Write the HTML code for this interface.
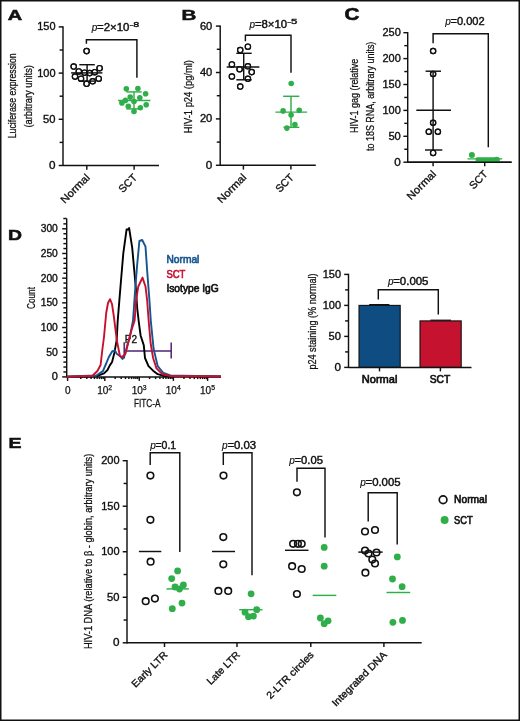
<!DOCTYPE html><html><head><meta charset="utf-8"><style>html,body{margin:0;padding:0;background:#fff;width:520px;height:721px;overflow:hidden;position:relative}</style></head><body><svg width="520" height="721" viewBox="0 0 520 721" style="position:absolute;left:0;top:0;will-change:transform" font-family='"Liberation Sans", sans-serif'>
<rect x="0" y="0" width="520" height="721" fill="white"/>
<text x="7.70" y="19.50" font-size="14.6" text-anchor="start" fill="#111" font-weight="bold" stroke="#111" stroke-width="0.55" textLength="14.40" lengthAdjust="spacingAndGlyphs">A</text>
<line x1="63.00" y1="26.30" x2="63.00" y2="166.10" stroke="#111" stroke-width="1.45" stroke-linecap="butt"/>
<line x1="58.70" y1="165.50" x2="63.00" y2="165.50" stroke="#111" stroke-width="1.45" stroke-linecap="butt"/>
<line x1="58.70" y1="119.30" x2="63.00" y2="119.30" stroke="#111" stroke-width="1.45" stroke-linecap="butt"/>
<line x1="58.70" y1="73.10" x2="63.00" y2="73.10" stroke="#111" stroke-width="1.45" stroke-linecap="butt"/>
<line x1="58.70" y1="26.90" x2="63.00" y2="26.90" stroke="#111" stroke-width="1.45" stroke-linecap="butt"/>
<line x1="59.60" y1="142.40" x2="63.00" y2="142.40" stroke="#111" stroke-width="1.45" stroke-linecap="butt"/>
<line x1="59.60" y1="96.20" x2="63.00" y2="96.20" stroke="#111" stroke-width="1.45" stroke-linecap="butt"/>
<line x1="59.60" y1="50.00" x2="63.00" y2="50.00" stroke="#111" stroke-width="1.45" stroke-linecap="butt"/>
<text x="55.50" y="169.00" font-size="10" text-anchor="end" fill="#111" font-weight="normal" stroke="#111" stroke-width="0.35" textLength="6.50" lengthAdjust="spacingAndGlyphs">0</text>
<text x="55.50" y="122.80" font-size="10" text-anchor="end" fill="#111" font-weight="normal" stroke="#111" stroke-width="0.35" textLength="12.40" lengthAdjust="spacingAndGlyphs">50</text>
<text x="55.50" y="76.60" font-size="10" text-anchor="end" fill="#111" font-weight="normal" stroke="#111" stroke-width="0.35" textLength="18.30" lengthAdjust="spacingAndGlyphs">100</text>
<text x="55.50" y="30.40" font-size="10" text-anchor="end" fill="#111" font-weight="normal" stroke="#111" stroke-width="0.35" textLength="18.30" lengthAdjust="spacingAndGlyphs">150</text>
<line x1="63.00" y1="165.50" x2="159.00" y2="165.50" stroke="#111" stroke-width="1.45" stroke-linecap="butt"/>
<line x1="86.80" y1="165.50" x2="86.80" y2="169.80" stroke="#111" stroke-width="1.45" stroke-linecap="butt"/>
<line x1="134.10" y1="165.50" x2="134.10" y2="169.80" stroke="#111" stroke-width="1.45" stroke-linecap="butt"/>
<text x="90.40" y="178.30" font-size="10.5" text-anchor="end" fill="#111" font-weight="normal" stroke="#111" stroke-width="0.35" textLength="36.18" lengthAdjust="spacingAndGlyphs" transform="rotate(-45 90.40 178.30)">Normal</text>
<text x="137.70" y="178.30" font-size="10.5" text-anchor="end" fill="#111" font-weight="normal" stroke="#111" stroke-width="0.35" textLength="21.00" lengthAdjust="spacingAndGlyphs" transform="rotate(-45 137.70 178.30)">SCT</text>
<text x="15.90" y="95.80" font-size="11.6" text-anchor="middle" fill="#111" font-weight="normal" stroke="#111" stroke-width="0.28" textLength="85.00" lengthAdjust="spacingAndGlyphs" transform="rotate(-90 15.90 95.80)">Luciferase expression</text>
<text x="32.30" y="96.30" font-size="11.6" text-anchor="middle" fill="#111" font-weight="normal" stroke="#111" stroke-width="0.28" textLength="62.50" lengthAdjust="spacingAndGlyphs" transform="rotate(-90 32.30 96.30)">(arbitrary units)</text>
<path d="M86.4 43.7 V39.8 H136.9 V77.8" stroke="#111" stroke-width="1.45" fill="none" stroke-linejoin="miter"/>
<text x="91.70" y="31.40" font-size="10" text-anchor="start" fill="#111" font-weight="normal" stroke="#111" stroke-width="0.15" font-style="italic">p</text>
<text x="97.00" y="31.40" font-size="10" text-anchor="start" fill="#111" font-weight="normal" stroke="#111" stroke-width="0.4" textLength="32.40" lengthAdjust="spacingAndGlyphs">=2×10</text>
<text x="129.60" y="27.10" font-size="6.8" text-anchor="start" fill="#111" font-weight="normal" stroke="#111" stroke-width="0.3" textLength="9.60" lengthAdjust="spacingAndGlyphs">-8</text>
<circle cx="86.60" cy="51.10" r="2.7" stroke="#111" stroke-width="1.15" fill="white"/>
<circle cx="73.70" cy="66.50" r="2.7" stroke="#111" stroke-width="1.15" fill="white"/>
<circle cx="99.60" cy="68.20" r="2.7" stroke="#111" stroke-width="1.15" fill="white"/>
<circle cx="78.80" cy="71.40" r="2.7" stroke="#111" stroke-width="1.15" fill="white"/>
<circle cx="84.50" cy="72.70" r="2.7" stroke="#111" stroke-width="1.15" fill="white"/>
<circle cx="89.70" cy="73.10" r="2.7" stroke="#111" stroke-width="1.15" fill="white"/>
<circle cx="94.80" cy="72.20" r="2.7" stroke="#111" stroke-width="1.15" fill="white"/>
<circle cx="75.00" cy="76.60" r="2.7" stroke="#111" stroke-width="1.15" fill="white"/>
<circle cx="81.00" cy="78.70" r="2.7" stroke="#111" stroke-width="1.15" fill="white"/>
<circle cx="86.60" cy="83.80" r="2.7" stroke="#111" stroke-width="1.15" fill="white"/>
<circle cx="92.70" cy="81.30" r="2.7" stroke="#111" stroke-width="1.15" fill="white"/>
<circle cx="98.70" cy="78.70" r="2.7" stroke="#111" stroke-width="1.15" fill="white"/>
<line x1="71.10" y1="72.90" x2="102.40" y2="72.90" stroke="#111" stroke-width="1.45" stroke-linecap="butt"/>
<line x1="79.30" y1="64.70" x2="94.80" y2="64.70" stroke="#111" stroke-width="1.45" stroke-linecap="butt"/>
<line x1="87.10" y1="64.70" x2="87.10" y2="81.10" stroke="#111" stroke-width="1.45" stroke-linecap="butt"/>
<line x1="79.30" y1="81.10" x2="94.80" y2="81.10" stroke="#111" stroke-width="1.45" stroke-linecap="butt"/>
<circle cx="86.6" cy="51.1" r="2.7" stroke="#111" stroke-width="1.15" fill="none"/>
<circle cx="73.7" cy="66.5" r="2.7" stroke="#111" stroke-width="1.15" fill="none"/>
<circle cx="99.6" cy="68.2" r="2.7" stroke="#111" stroke-width="1.15" fill="none"/>
<circle cx="78.8" cy="71.4" r="2.7" stroke="#111" stroke-width="1.15" fill="none"/>
<circle cx="84.5" cy="72.7" r="2.7" stroke="#111" stroke-width="1.15" fill="none"/>
<circle cx="89.7" cy="73.1" r="2.7" stroke="#111" stroke-width="1.15" fill="none"/>
<circle cx="94.8" cy="72.2" r="2.7" stroke="#111" stroke-width="1.15" fill="none"/>
<circle cx="75" cy="76.6" r="2.7" stroke="#111" stroke-width="1.15" fill="none"/>
<circle cx="81" cy="78.7" r="2.7" stroke="#111" stroke-width="1.15" fill="none"/>
<circle cx="86.6" cy="83.8" r="2.7" stroke="#111" stroke-width="1.15" fill="none"/>
<circle cx="92.7" cy="81.3" r="2.7" stroke="#111" stroke-width="1.15" fill="none"/>
<circle cx="98.7" cy="78.7" r="2.7" stroke="#111" stroke-width="1.15" fill="none"/>
<circle cx="126.30" cy="88.80" r="2.8" fill="#2fae49"/>
<circle cx="137.90" cy="88.50" r="2.8" fill="#2fae49"/>
<circle cx="145.60" cy="93.80" r="2.8" fill="#2fae49"/>
<circle cx="130.20" cy="97.10" r="2.8" fill="#2fae49"/>
<circle cx="139.80" cy="97.70" r="2.8" fill="#2fae49"/>
<circle cx="125.40" cy="100.40" r="2.8" fill="#2fae49"/>
<circle cx="121.90" cy="102.90" r="2.8" fill="#2fae49"/>
<circle cx="134.00" cy="101.50" r="2.8" fill="#2fae49"/>
<circle cx="128.30" cy="106.20" r="2.8" fill="#2fae49"/>
<circle cx="140.40" cy="107.70" r="2.8" fill="#2fae49"/>
<circle cx="146.20" cy="104.80" r="2.8" fill="#2fae49"/>
<circle cx="134.00" cy="111.50" r="2.8" fill="#2fae49"/>
<line x1="118.00" y1="100.40" x2="150.40" y2="100.40" stroke="#2fae49" stroke-width="1.45" stroke-linecap="butt"/>
<line x1="126.30" y1="91.90" x2="141.70" y2="91.90" stroke="#2fae49" stroke-width="1.45" stroke-linecap="butt"/>
<line x1="134.00" y1="91.90" x2="134.00" y2="108.90" stroke="#2fae49" stroke-width="1.45" stroke-linecap="butt"/>
<line x1="126.30" y1="108.90" x2="141.70" y2="108.90" stroke="#2fae49" stroke-width="1.45" stroke-linecap="butt"/>
<text x="181.50" y="19.60" font-size="14.6" text-anchor="start" fill="#111" font-weight="bold" stroke="#111" stroke-width="0.55" textLength="14.80" lengthAdjust="spacingAndGlyphs">B</text>
<line x1="220.20" y1="25.50" x2="220.20" y2="165.90" stroke="#111" stroke-width="1.45" stroke-linecap="butt"/>
<line x1="215.90" y1="165.30" x2="220.20" y2="165.30" stroke="#111" stroke-width="1.45" stroke-linecap="butt"/>
<line x1="215.90" y1="118.90" x2="220.20" y2="118.90" stroke="#111" stroke-width="1.45" stroke-linecap="butt"/>
<line x1="215.90" y1="72.50" x2="220.20" y2="72.50" stroke="#111" stroke-width="1.45" stroke-linecap="butt"/>
<line x1="215.90" y1="26.10" x2="220.20" y2="26.10" stroke="#111" stroke-width="1.45" stroke-linecap="butt"/>
<line x1="216.80" y1="142.10" x2="220.20" y2="142.10" stroke="#111" stroke-width="1.45" stroke-linecap="butt"/>
<line x1="216.80" y1="95.70" x2="220.20" y2="95.70" stroke="#111" stroke-width="1.45" stroke-linecap="butt"/>
<line x1="216.80" y1="49.30" x2="220.20" y2="49.30" stroke="#111" stroke-width="1.45" stroke-linecap="butt"/>
<text x="212.30" y="168.80" font-size="10" text-anchor="end" fill="#111" font-weight="normal" stroke="#111" stroke-width="0.35" textLength="6.50" lengthAdjust="spacingAndGlyphs">0</text>
<text x="212.30" y="122.40" font-size="10" text-anchor="end" fill="#111" font-weight="normal" stroke="#111" stroke-width="0.35" textLength="12.40" lengthAdjust="spacingAndGlyphs">20</text>
<text x="212.30" y="76.00" font-size="10" text-anchor="end" fill="#111" font-weight="normal" stroke="#111" stroke-width="0.35" textLength="12.40" lengthAdjust="spacingAndGlyphs">40</text>
<text x="212.30" y="29.60" font-size="10" text-anchor="end" fill="#111" font-weight="normal" stroke="#111" stroke-width="0.35" textLength="12.40" lengthAdjust="spacingAndGlyphs">60</text>
<line x1="220.20" y1="165.30" x2="315.80" y2="165.30" stroke="#111" stroke-width="1.45" stroke-linecap="butt"/>
<line x1="243.40" y1="165.30" x2="243.40" y2="169.60" stroke="#111" stroke-width="1.45" stroke-linecap="butt"/>
<line x1="290.90" y1="165.30" x2="290.90" y2="169.60" stroke="#111" stroke-width="1.45" stroke-linecap="butt"/>
<text x="247.00" y="178.10" font-size="10.5" text-anchor="end" fill="#111" font-weight="normal" stroke="#111" stroke-width="0.35" textLength="36.18" lengthAdjust="spacingAndGlyphs" transform="rotate(-45 247.00 178.10)">Normal</text>
<text x="294.50" y="178.10" font-size="10.5" text-anchor="end" fill="#111" font-weight="normal" stroke="#111" stroke-width="0.35" textLength="21.00" lengthAdjust="spacingAndGlyphs" transform="rotate(-45 294.50 178.10)">SCT</text>
<text x="192.40" y="96.70" font-size="11.6" text-anchor="middle" fill="#111" font-weight="normal" stroke="#111" stroke-width="0.28" textLength="73.30" lengthAdjust="spacingAndGlyphs" transform="rotate(-90 192.40 96.70)">HIV-1 p24 (pg/ml)</text>
<path d="M245.4 41.3 V35.2 H291 V72.7" stroke="#111" stroke-width="1.45" fill="none" stroke-linejoin="miter"/>
<text x="249.60" y="28.00" font-size="10" text-anchor="start" fill="#111" font-weight="normal" stroke="#111" stroke-width="0.15" font-style="italic">p</text>
<text x="254.90" y="28.00" font-size="10" text-anchor="start" fill="#111" font-weight="normal" stroke="#111" stroke-width="0.4" textLength="32.20" lengthAdjust="spacingAndGlyphs">=8×10</text>
<text x="287.30" y="23.70" font-size="6.8" text-anchor="start" fill="#111" font-weight="normal" stroke="#111" stroke-width="0.3" textLength="10.20" lengthAdjust="spacingAndGlyphs">-5</text>
<circle cx="247.90" cy="46.70" r="2.7" stroke="#111" stroke-width="1.15" fill="white"/>
<circle cx="240.20" cy="50.00" r="2.7" stroke="#111" stroke-width="1.15" fill="white"/>
<circle cx="231.90" cy="64.40" r="2.7" stroke="#111" stroke-width="1.15" fill="white"/>
<circle cx="239.60" cy="69.20" r="2.7" stroke="#111" stroke-width="1.15" fill="white"/>
<circle cx="247.90" cy="66.30" r="2.7" stroke="#111" stroke-width="1.15" fill="white"/>
<circle cx="251.70" cy="72.10" r="2.7" stroke="#111" stroke-width="1.15" fill="white"/>
<circle cx="231.90" cy="76.50" r="2.7" stroke="#111" stroke-width="1.15" fill="white"/>
<circle cx="247.90" cy="78.80" r="2.7" stroke="#111" stroke-width="1.15" fill="white"/>
<circle cx="240.20" cy="86.50" r="2.7" stroke="#111" stroke-width="1.15" fill="white"/>
<line x1="226.70" y1="66.90" x2="259.40" y2="66.90" stroke="#111" stroke-width="1.45" stroke-linecap="butt"/>
<line x1="236.30" y1="53.30" x2="251.70" y2="53.30" stroke="#111" stroke-width="1.45" stroke-linecap="butt"/>
<line x1="243.70" y1="53.30" x2="243.70" y2="79.80" stroke="#111" stroke-width="1.45" stroke-linecap="butt"/>
<line x1="236.30" y1="79.80" x2="251.70" y2="79.80" stroke="#111" stroke-width="1.45" stroke-linecap="butt"/>
<circle cx="247.9" cy="46.7" r="2.7" stroke="#111" stroke-width="1.15" fill="none"/>
<circle cx="240.2" cy="50" r="2.7" stroke="#111" stroke-width="1.15" fill="none"/>
<circle cx="231.9" cy="64.4" r="2.7" stroke="#111" stroke-width="1.15" fill="none"/>
<circle cx="239.6" cy="69.2" r="2.7" stroke="#111" stroke-width="1.15" fill="none"/>
<circle cx="247.9" cy="66.3" r="2.7" stroke="#111" stroke-width="1.15" fill="none"/>
<circle cx="251.7" cy="72.1" r="2.7" stroke="#111" stroke-width="1.15" fill="none"/>
<circle cx="231.9" cy="76.5" r="2.7" stroke="#111" stroke-width="1.15" fill="none"/>
<circle cx="247.9" cy="78.8" r="2.7" stroke="#111" stroke-width="1.15" fill="none"/>
<circle cx="240.2" cy="86.5" r="2.7" stroke="#111" stroke-width="1.15" fill="none"/>
<circle cx="291.20" cy="83.50" r="2.8" fill="#2fae49"/>
<circle cx="283.10" cy="110.90" r="2.8" fill="#2fae49"/>
<circle cx="299.20" cy="110.30" r="2.8" fill="#2fae49"/>
<circle cx="291.10" cy="115.00" r="2.8" fill="#2fae49"/>
<circle cx="286.90" cy="128.10" r="2.8" fill="#2fae49"/>
<circle cx="294.90" cy="124.60" r="2.8" fill="#2fae49"/>
<line x1="275.40" y1="112.10" x2="307.10" y2="112.10" stroke="#2fae49" stroke-width="1.45" stroke-linecap="butt"/>
<line x1="283.10" y1="96.30" x2="299.30" y2="96.30" stroke="#2fae49" stroke-width="1.45" stroke-linecap="butt"/>
<line x1="291.00" y1="96.30" x2="291.00" y2="127.30" stroke="#2fae49" stroke-width="1.45" stroke-linecap="butt"/>
<line x1="283.50" y1="127.30" x2="299.30" y2="127.30" stroke="#2fae49" stroke-width="1.45" stroke-linecap="butt"/>
<text x="344.50" y="19.90" font-size="15.6" text-anchor="start" fill="#111" font-weight="bold" stroke="#111" stroke-width="0.55" textLength="14.90" lengthAdjust="spacingAndGlyphs">C</text>
<line x1="407.70" y1="32.10" x2="407.70" y2="162.80" stroke="#111" stroke-width="1.45" stroke-linecap="butt"/>
<line x1="403.40" y1="162.20" x2="407.70" y2="162.20" stroke="#111" stroke-width="1.45" stroke-linecap="butt"/>
<line x1="403.40" y1="136.30" x2="407.70" y2="136.30" stroke="#111" stroke-width="1.45" stroke-linecap="butt"/>
<line x1="403.40" y1="110.40" x2="407.70" y2="110.40" stroke="#111" stroke-width="1.45" stroke-linecap="butt"/>
<line x1="403.40" y1="84.50" x2="407.70" y2="84.50" stroke="#111" stroke-width="1.45" stroke-linecap="butt"/>
<line x1="403.40" y1="58.60" x2="407.70" y2="58.60" stroke="#111" stroke-width="1.45" stroke-linecap="butt"/>
<line x1="403.40" y1="32.70" x2="407.70" y2="32.70" stroke="#111" stroke-width="1.45" stroke-linecap="butt"/>
<line x1="404.30" y1="149.25" x2="407.70" y2="149.25" stroke="#111" stroke-width="1.45" stroke-linecap="butt"/>
<line x1="404.30" y1="123.35" x2="407.70" y2="123.35" stroke="#111" stroke-width="1.45" stroke-linecap="butt"/>
<line x1="404.30" y1="97.45" x2="407.70" y2="97.45" stroke="#111" stroke-width="1.45" stroke-linecap="butt"/>
<line x1="404.30" y1="71.55" x2="407.70" y2="71.55" stroke="#111" stroke-width="1.45" stroke-linecap="butt"/>
<line x1="404.30" y1="45.65" x2="407.70" y2="45.65" stroke="#111" stroke-width="1.45" stroke-linecap="butt"/>
<text x="400.80" y="165.70" font-size="10" text-anchor="end" fill="#111" font-weight="normal" stroke="#111" stroke-width="0.35" textLength="6.50" lengthAdjust="spacingAndGlyphs">0</text>
<text x="400.80" y="139.80" font-size="10" text-anchor="end" fill="#111" font-weight="normal" stroke="#111" stroke-width="0.35" textLength="12.40" lengthAdjust="spacingAndGlyphs">50</text>
<text x="400.80" y="113.90" font-size="10" text-anchor="end" fill="#111" font-weight="normal" stroke="#111" stroke-width="0.35" textLength="18.30" lengthAdjust="spacingAndGlyphs">100</text>
<text x="400.80" y="88.00" font-size="10" text-anchor="end" fill="#111" font-weight="normal" stroke="#111" stroke-width="0.35" textLength="18.30" lengthAdjust="spacingAndGlyphs">150</text>
<text x="400.80" y="62.10" font-size="10" text-anchor="end" fill="#111" font-weight="normal" stroke="#111" stroke-width="0.35" textLength="18.30" lengthAdjust="spacingAndGlyphs">200</text>
<text x="400.80" y="36.20" font-size="10" text-anchor="end" fill="#111" font-weight="normal" stroke="#111" stroke-width="0.35" textLength="18.30" lengthAdjust="spacingAndGlyphs">250</text>
<line x1="407.70" y1="162.20" x2="511.60" y2="162.20" stroke="#111" stroke-width="1.45" stroke-linecap="butt"/>
<line x1="433.10" y1="162.20" x2="433.10" y2="166.30" stroke="#111" stroke-width="1.45" stroke-linecap="butt"/>
<line x1="484.70" y1="162.20" x2="484.70" y2="166.30" stroke="#111" stroke-width="1.45" stroke-linecap="butt"/>
<text x="436.70" y="174.80" font-size="10.5" text-anchor="end" fill="#111" font-weight="normal" stroke="#111" stroke-width="0.35" textLength="36.18" lengthAdjust="spacingAndGlyphs" transform="rotate(-45 436.70 174.80)">Normal</text>
<text x="488.30" y="174.80" font-size="10.5" text-anchor="end" fill="#111" font-weight="normal" stroke="#111" stroke-width="0.35" textLength="21.00" lengthAdjust="spacingAndGlyphs" transform="rotate(-45 488.30 174.80)">SCT</text>
<text x="357.70" y="95.80" font-size="11.6" text-anchor="middle" fill="#111" font-weight="normal" stroke="#111" stroke-width="0.28" textLength="74.20" lengthAdjust="spacingAndGlyphs" transform="rotate(-90 357.70 95.80)">HIV-1 gag (relative</text>
<text x="373.80" y="96.30" font-size="11.6" text-anchor="middle" fill="#111" font-weight="normal" stroke="#111" stroke-width="0.28" textLength="109.30" lengthAdjust="spacingAndGlyphs" transform="rotate(-90 373.80 96.30)">to 18S RNA, arbitrary units)</text>
<path d="M433.1 43.3 V33.7 H488.3 V147.3" stroke="#111" stroke-width="1.45" fill="none" stroke-linejoin="miter"/>
<text x="445.20" y="25.40" font-size="10" text-anchor="start" fill="#111" font-weight="normal" stroke="#111" stroke-width="0.15" font-style="italic">p</text>
<text x="450.50" y="25.40" font-size="10" text-anchor="start" fill="#111" font-weight="normal" stroke="#111" stroke-width="0.4" textLength="34.10" lengthAdjust="spacingAndGlyphs">=0.002</text>
<circle cx="433.10" cy="51.00" r="2.65" stroke="#111" stroke-width="1.2" fill="white"/>
<circle cx="433.10" cy="74.00" r="2.65" stroke="#111" stroke-width="1.2" fill="white"/>
<circle cx="433.10" cy="122.70" r="2.65" stroke="#111" stroke-width="1.2" fill="white"/>
<circle cx="428.80" cy="131.70" r="2.65" stroke="#111" stroke-width="1.2" fill="white"/>
<circle cx="437.90" cy="131.70" r="2.65" stroke="#111" stroke-width="1.2" fill="white"/>
<circle cx="433.10" cy="152.90" r="2.65" stroke="#111" stroke-width="1.2" fill="white"/>
<line x1="416.30" y1="110.20" x2="451.00" y2="110.20" stroke="#111" stroke-width="1.45" stroke-linecap="butt"/>
<line x1="425.60" y1="71.20" x2="441.00" y2="71.20" stroke="#111" stroke-width="1.45" stroke-linecap="butt"/>
<line x1="433.10" y1="71.20" x2="433.10" y2="150.00" stroke="#111" stroke-width="1.45" stroke-linecap="butt"/>
<line x1="425.00" y1="150.00" x2="442.30" y2="150.00" stroke="#111" stroke-width="1.45" stroke-linecap="butt"/>
<circle cx="433.1" cy="51" r="2.65" stroke="#111" stroke-width="1.2" fill="none"/>
<circle cx="433.1" cy="74" r="2.65" stroke="#111" stroke-width="1.2" fill="none"/>
<circle cx="433.1" cy="122.7" r="2.65" stroke="#111" stroke-width="1.2" fill="none"/>
<circle cx="428.8" cy="131.7" r="2.65" stroke="#111" stroke-width="1.2" fill="none"/>
<circle cx="437.9" cy="131.7" r="2.65" stroke="#111" stroke-width="1.2" fill="none"/>
<circle cx="433.1" cy="152.9" r="2.65" stroke="#111" stroke-width="1.2" fill="none"/>
<circle cx="471.90" cy="154.90" r="3.0" fill="#2fae49"/>
<rect x="475.6" y="157.3" width="24.2" height="4.6" rx="1.5" fill="#2fae49"/>
<circle cx="496.50" cy="159.20" r="2.5" fill="#2fae49"/>
<line x1="467.50" y1="158.90" x2="502.20" y2="158.90" stroke="#2fae49" stroke-width="1.3" stroke-linecap="butt"/>
<line x1="407.70" y1="162.20" x2="511.60" y2="162.20" stroke="#111" stroke-width="1.45" stroke-linecap="butt"/>
<text x="7.90" y="239.80" font-size="14.6" text-anchor="start" fill="#111" font-weight="bold" stroke="#111" stroke-width="0.55" textLength="14.00" lengthAdjust="spacingAndGlyphs">D</text>
<line x1="66.70" y1="218.50" x2="66.70" y2="377.50" stroke="#111" stroke-width="1.45" stroke-linecap="butt"/>
<line x1="63.30" y1="218.50" x2="66.70" y2="218.50" stroke="#111" stroke-width="1.45" stroke-linecap="butt"/>
<line x1="62.20" y1="376.90" x2="66.70" y2="376.90" stroke="#111" stroke-width="1.45" stroke-linecap="butt"/>
<line x1="62.20" y1="352.22" x2="66.70" y2="352.22" stroke="#111" stroke-width="1.45" stroke-linecap="butt"/>
<line x1="62.20" y1="327.53" x2="66.70" y2="327.53" stroke="#111" stroke-width="1.45" stroke-linecap="butt"/>
<line x1="62.20" y1="302.85" x2="66.70" y2="302.85" stroke="#111" stroke-width="1.45" stroke-linecap="butt"/>
<line x1="62.20" y1="278.17" x2="66.70" y2="278.17" stroke="#111" stroke-width="1.45" stroke-linecap="butt"/>
<line x1="62.20" y1="253.48" x2="66.70" y2="253.48" stroke="#111" stroke-width="1.45" stroke-linecap="butt"/>
<line x1="62.20" y1="228.80" x2="66.70" y2="228.80" stroke="#111" stroke-width="1.45" stroke-linecap="butt"/>
<line x1="63.40" y1="371.96" x2="66.70" y2="371.96" stroke="#111" stroke-width="1.45" stroke-linecap="butt"/>
<line x1="63.40" y1="367.03" x2="66.70" y2="367.03" stroke="#111" stroke-width="1.45" stroke-linecap="butt"/>
<line x1="63.40" y1="362.09" x2="66.70" y2="362.09" stroke="#111" stroke-width="1.45" stroke-linecap="butt"/>
<line x1="63.40" y1="357.15" x2="66.70" y2="357.15" stroke="#111" stroke-width="1.45" stroke-linecap="butt"/>
<line x1="63.40" y1="347.28" x2="66.70" y2="347.28" stroke="#111" stroke-width="1.45" stroke-linecap="butt"/>
<line x1="63.40" y1="342.34" x2="66.70" y2="342.34" stroke="#111" stroke-width="1.45" stroke-linecap="butt"/>
<line x1="63.40" y1="337.41" x2="66.70" y2="337.41" stroke="#111" stroke-width="1.45" stroke-linecap="butt"/>
<line x1="63.40" y1="332.47" x2="66.70" y2="332.47" stroke="#111" stroke-width="1.45" stroke-linecap="butt"/>
<line x1="63.40" y1="322.60" x2="66.70" y2="322.60" stroke="#111" stroke-width="1.45" stroke-linecap="butt"/>
<line x1="63.40" y1="317.66" x2="66.70" y2="317.66" stroke="#111" stroke-width="1.45" stroke-linecap="butt"/>
<line x1="63.40" y1="312.72" x2="66.70" y2="312.72" stroke="#111" stroke-width="1.45" stroke-linecap="butt"/>
<line x1="63.40" y1="307.79" x2="66.70" y2="307.79" stroke="#111" stroke-width="1.45" stroke-linecap="butt"/>
<line x1="63.40" y1="297.91" x2="66.70" y2="297.91" stroke="#111" stroke-width="1.45" stroke-linecap="butt"/>
<line x1="63.40" y1="292.98" x2="66.70" y2="292.98" stroke="#111" stroke-width="1.45" stroke-linecap="butt"/>
<line x1="63.40" y1="288.04" x2="66.70" y2="288.04" stroke="#111" stroke-width="1.45" stroke-linecap="butt"/>
<line x1="63.40" y1="283.10" x2="66.70" y2="283.10" stroke="#111" stroke-width="1.45" stroke-linecap="butt"/>
<line x1="63.40" y1="273.23" x2="66.70" y2="273.23" stroke="#111" stroke-width="1.45" stroke-linecap="butt"/>
<line x1="63.40" y1="268.29" x2="66.70" y2="268.29" stroke="#111" stroke-width="1.45" stroke-linecap="butt"/>
<line x1="63.40" y1="263.36" x2="66.70" y2="263.36" stroke="#111" stroke-width="1.45" stroke-linecap="butt"/>
<line x1="63.40" y1="258.42" x2="66.70" y2="258.42" stroke="#111" stroke-width="1.45" stroke-linecap="butt"/>
<line x1="63.40" y1="248.55" x2="66.70" y2="248.55" stroke="#111" stroke-width="1.45" stroke-linecap="butt"/>
<line x1="63.40" y1="243.61" x2="66.70" y2="243.61" stroke="#111" stroke-width="1.45" stroke-linecap="butt"/>
<line x1="63.40" y1="238.67" x2="66.70" y2="238.67" stroke="#111" stroke-width="1.45" stroke-linecap="butt"/>
<line x1="63.40" y1="233.74" x2="66.70" y2="233.74" stroke="#111" stroke-width="1.45" stroke-linecap="butt"/>
<line x1="63.40" y1="223.86" x2="66.70" y2="223.86" stroke="#111" stroke-width="1.45" stroke-linecap="butt"/>
<text x="57.80" y="380.40" font-size="10" text-anchor="end" fill="#111" font-weight="normal" stroke="#111" stroke-width="0.35" textLength="6.10" lengthAdjust="spacingAndGlyphs">0</text>
<text x="57.80" y="355.72" font-size="10" text-anchor="end" fill="#111" font-weight="normal" stroke="#111" stroke-width="0.35" textLength="11.60" lengthAdjust="spacingAndGlyphs">50</text>
<text x="57.80" y="331.03" font-size="10" text-anchor="end" fill="#111" font-weight="normal" stroke="#111" stroke-width="0.35" textLength="17.10" lengthAdjust="spacingAndGlyphs">100</text>
<text x="57.80" y="306.35" font-size="10" text-anchor="end" fill="#111" font-weight="normal" stroke="#111" stroke-width="0.35" textLength="17.10" lengthAdjust="spacingAndGlyphs">150</text>
<text x="57.80" y="281.67" font-size="10" text-anchor="end" fill="#111" font-weight="normal" stroke="#111" stroke-width="0.35" textLength="17.10" lengthAdjust="spacingAndGlyphs">200</text>
<text x="57.80" y="256.98" font-size="10" text-anchor="end" fill="#111" font-weight="normal" stroke="#111" stroke-width="0.35" textLength="17.10" lengthAdjust="spacingAndGlyphs">250</text>
<text x="57.80" y="232.30" font-size="10" text-anchor="end" fill="#111" font-weight="normal" stroke="#111" stroke-width="0.35" textLength="17.10" lengthAdjust="spacingAndGlyphs">300</text>
<text x="34.60" y="298.00" font-size="11.6" text-anchor="middle" fill="#111" font-weight="normal" stroke="#111" stroke-width="0.28" textLength="22.00" lengthAdjust="spacingAndGlyphs" transform="rotate(-90 34.60 298.00)">Count</text>
<line x1="66.70" y1="376.90" x2="221.00" y2="376.90" stroke="#111" stroke-width="1.45" stroke-linecap="butt"/>
<line x1="67.60" y1="376.90" x2="67.60" y2="380.90" stroke="#111" stroke-width="1.45" stroke-linecap="butt"/>
<line x1="104.80" y1="376.90" x2="104.80" y2="380.90" stroke="#111" stroke-width="1.45" stroke-linecap="butt"/>
<line x1="139.30" y1="376.90" x2="139.30" y2="380.90" stroke="#111" stroke-width="1.45" stroke-linecap="butt"/>
<line x1="173.40" y1="376.90" x2="173.40" y2="380.90" stroke="#111" stroke-width="1.45" stroke-linecap="butt"/>
<line x1="207.60" y1="376.90" x2="207.60" y2="380.90" stroke="#111" stroke-width="1.45" stroke-linecap="butt"/>
<line x1="80.76" y1="376.90" x2="80.76" y2="379.10" stroke="#111" stroke-width="1.45" stroke-linecap="butt"/>
<line x1="86.81" y1="376.90" x2="86.81" y2="379.10" stroke="#111" stroke-width="1.45" stroke-linecap="butt"/>
<line x1="91.11" y1="376.90" x2="91.11" y2="379.10" stroke="#111" stroke-width="1.45" stroke-linecap="butt"/>
<line x1="94.44" y1="376.90" x2="94.44" y2="379.10" stroke="#111" stroke-width="1.45" stroke-linecap="butt"/>
<line x1="97.17" y1="376.90" x2="97.17" y2="379.10" stroke="#111" stroke-width="1.45" stroke-linecap="butt"/>
<line x1="99.47" y1="376.90" x2="99.47" y2="379.10" stroke="#111" stroke-width="1.45" stroke-linecap="butt"/>
<line x1="101.47" y1="376.90" x2="101.47" y2="379.10" stroke="#111" stroke-width="1.45" stroke-linecap="butt"/>
<line x1="103.23" y1="376.90" x2="103.23" y2="379.10" stroke="#111" stroke-width="1.45" stroke-linecap="butt"/>
<line x1="115.16" y1="376.90" x2="115.16" y2="379.10" stroke="#111" stroke-width="1.45" stroke-linecap="butt"/>
<line x1="121.21" y1="376.90" x2="121.21" y2="379.10" stroke="#111" stroke-width="1.45" stroke-linecap="butt"/>
<line x1="125.51" y1="376.90" x2="125.51" y2="379.10" stroke="#111" stroke-width="1.45" stroke-linecap="butt"/>
<line x1="128.84" y1="376.90" x2="128.84" y2="379.10" stroke="#111" stroke-width="1.45" stroke-linecap="butt"/>
<line x1="131.57" y1="376.90" x2="131.57" y2="379.10" stroke="#111" stroke-width="1.45" stroke-linecap="butt"/>
<line x1="133.87" y1="376.90" x2="133.87" y2="379.10" stroke="#111" stroke-width="1.45" stroke-linecap="butt"/>
<line x1="135.87" y1="376.90" x2="135.87" y2="379.10" stroke="#111" stroke-width="1.45" stroke-linecap="butt"/>
<line x1="137.63" y1="376.90" x2="137.63" y2="379.10" stroke="#111" stroke-width="1.45" stroke-linecap="butt"/>
<line x1="149.56" y1="376.90" x2="149.56" y2="379.10" stroke="#111" stroke-width="1.45" stroke-linecap="butt"/>
<line x1="155.61" y1="376.90" x2="155.61" y2="379.10" stroke="#111" stroke-width="1.45" stroke-linecap="butt"/>
<line x1="159.91" y1="376.90" x2="159.91" y2="379.10" stroke="#111" stroke-width="1.45" stroke-linecap="butt"/>
<line x1="163.24" y1="376.90" x2="163.24" y2="379.10" stroke="#111" stroke-width="1.45" stroke-linecap="butt"/>
<line x1="165.97" y1="376.90" x2="165.97" y2="379.10" stroke="#111" stroke-width="1.45" stroke-linecap="butt"/>
<line x1="168.27" y1="376.90" x2="168.27" y2="379.10" stroke="#111" stroke-width="1.45" stroke-linecap="butt"/>
<line x1="170.27" y1="376.90" x2="170.27" y2="379.10" stroke="#111" stroke-width="1.45" stroke-linecap="butt"/>
<line x1="172.03" y1="376.90" x2="172.03" y2="379.10" stroke="#111" stroke-width="1.45" stroke-linecap="butt"/>
<line x1="183.96" y1="376.90" x2="183.96" y2="379.10" stroke="#111" stroke-width="1.45" stroke-linecap="butt"/>
<line x1="190.01" y1="376.90" x2="190.01" y2="379.10" stroke="#111" stroke-width="1.45" stroke-linecap="butt"/>
<line x1="194.31" y1="376.90" x2="194.31" y2="379.10" stroke="#111" stroke-width="1.45" stroke-linecap="butt"/>
<line x1="197.64" y1="376.90" x2="197.64" y2="379.10" stroke="#111" stroke-width="1.45" stroke-linecap="butt"/>
<line x1="200.37" y1="376.90" x2="200.37" y2="379.10" stroke="#111" stroke-width="1.45" stroke-linecap="butt"/>
<line x1="202.67" y1="376.90" x2="202.67" y2="379.10" stroke="#111" stroke-width="1.45" stroke-linecap="butt"/>
<line x1="204.67" y1="376.90" x2="204.67" y2="379.10" stroke="#111" stroke-width="1.45" stroke-linecap="butt"/>
<line x1="206.43" y1="376.90" x2="206.43" y2="379.10" stroke="#111" stroke-width="1.45" stroke-linecap="butt"/>
<text x="67.80" y="394.20" font-size="10" text-anchor="middle" fill="#111" font-weight="normal" stroke="#111" stroke-width="0.25">0</text>
<text x="97.20" y="394.2" font-size="10" fill="#111" stroke="#111" stroke-width="0.25">10<tspan dy="-4.6" font-size="6.8">2</tspan></text>
<text x="131.70" y="394.2" font-size="10" fill="#111" stroke="#111" stroke-width="0.25">10<tspan dy="-4.6" font-size="6.8">3</tspan></text>
<text x="165.80" y="394.2" font-size="10" fill="#111" stroke="#111" stroke-width="0.25">10<tspan dy="-4.6" font-size="6.8">4</tspan></text>
<text x="200.00" y="394.2" font-size="10" fill="#111" stroke="#111" stroke-width="0.25">10<tspan dy="-4.6" font-size="6.8">5</tspan></text>
<text x="147.20" y="407.20" font-size="11.6" text-anchor="middle" fill="#111" font-weight="normal" stroke="#111" stroke-width="0.28" textLength="26.60" lengthAdjust="spacingAndGlyphs">FITC-A</text>
<line x1="124.20" y1="342.30" x2="124.20" y2="358.60" stroke="#4e2275" stroke-width="1.5" stroke-linecap="butt"/>
<line x1="124.20" y1="351.10" x2="171.20" y2="351.10" stroke="#4e2275" stroke-width="1.5" stroke-linecap="butt"/>
<line x1="171.20" y1="342.50" x2="171.20" y2="358.60" stroke="#4e2275" stroke-width="1.5" stroke-linecap="butt"/>
<text x="124.80" y="343.20" font-size="10" text-anchor="start" fill="#111" font-weight="normal" stroke="#111" stroke-width="0.35">P2</text>
<polyline points="66.7,376.7 96.0,376.3 104.0,373.4 107.5,370.0 109.8,365.4 112.1,362.0 114.4,352.7 116.7,340.0 117.7,320.8 119.4,299.8 120.5,286.5 123.3,253.3 126.6,229.4 127.8,229.6 129.1,228.0 132.2,247.7 134.9,277.6 136.0,290.0 137.2,308.0 138.8,322.0 140.6,335.5 143.8,345.4 145.0,358.0 148.5,366.1 153.1,370.7 157.7,374.2 164.6,376.0 221.0,376.5" fill="none" stroke="#000" stroke-width="1.9" stroke-linejoin="round"/>
<polyline points="66.7,376.7 89.0,375.8 96.0,375.8 102.9,371.1 106.4,363.0 108.7,357.3 112.1,351.5 115.0,350.4 116.7,353.8 120.2,356.1 122.5,359.0 124.2,356.7 130.0,336.0 133.0,320.8 135.0,292.0 137.2,264.3 139.4,241.0 142.2,240.0 145.5,246.6 147.1,269.9 149.4,299.8 150.8,320.8 153.6,348.8 157.7,366.1 163.4,373.0 170.4,375.4 221.0,376.5" fill="none" stroke="#16558f" stroke-width="1.9" stroke-linejoin="round"/>
<polyline points="66.7,376.7 92.5,375.8 97.4,371.0 100.6,365.0 102.3,350.0 104.0,337.0 106.2,313.0 108.0,303.0 110.0,299.2 112.0,304.0 113.8,316.2 116.9,340.8 120.0,356.2 122.3,357.0 125.4,353.8 131.5,330.0 134.6,320.8 136.1,299.8 138.3,286.5 142.5,277.6 145.5,286.5 147.1,299.8 148.6,320.0 150.6,343.0 153.1,358.0 156.5,368.4 162.3,374.2 170.4,376.0 221.0,376.5" fill="none" stroke="#c8102e" stroke-width="1.9" stroke-linejoin="round"/>
<text x="166.50" y="263.10" font-size="10" text-anchor="start" fill="#16558f" font-weight="normal" stroke="#16558f" stroke-width="0.62" textLength="32.90" lengthAdjust="spacingAndGlyphs">Normal</text>
<text x="166.40" y="278.00" font-size="10" text-anchor="start" fill="#c8102e" font-weight="normal" stroke="#c8102e" stroke-width="0.62" textLength="18.90" lengthAdjust="spacingAndGlyphs">SCT</text>
<text x="166.40" y="292.30" font-size="10" text-anchor="start" fill="#111" font-weight="normal" stroke="#111" stroke-width="0.62" textLength="52.40" lengthAdjust="spacingAndGlyphs">Isotype IgG</text>
<line x1="348.50" y1="273.80" x2="348.50" y2="368.00" stroke="#111" stroke-width="1.45" stroke-linecap="butt"/>
<line x1="344.20" y1="367.40" x2="348.50" y2="367.40" stroke="#111" stroke-width="1.45" stroke-linecap="butt"/>
<line x1="344.20" y1="336.40" x2="348.50" y2="336.40" stroke="#111" stroke-width="1.45" stroke-linecap="butt"/>
<line x1="344.20" y1="305.40" x2="348.50" y2="305.40" stroke="#111" stroke-width="1.45" stroke-linecap="butt"/>
<line x1="344.20" y1="274.40" x2="348.50" y2="274.40" stroke="#111" stroke-width="1.45" stroke-linecap="butt"/>
<line x1="345.10" y1="351.90" x2="348.50" y2="351.90" stroke="#111" stroke-width="1.45" stroke-linecap="butt"/>
<line x1="345.10" y1="320.90" x2="348.50" y2="320.90" stroke="#111" stroke-width="1.45" stroke-linecap="butt"/>
<line x1="345.10" y1="289.90" x2="348.50" y2="289.90" stroke="#111" stroke-width="1.45" stroke-linecap="butt"/>
<text x="341.00" y="370.90" font-size="10" text-anchor="end" fill="#111" font-weight="normal" stroke="#111" stroke-width="0.35" textLength="6.50" lengthAdjust="spacingAndGlyphs">0</text>
<text x="341.00" y="339.90" font-size="10" text-anchor="end" fill="#111" font-weight="normal" stroke="#111" stroke-width="0.35" textLength="12.40" lengthAdjust="spacingAndGlyphs">50</text>
<text x="341.00" y="308.90" font-size="10" text-anchor="end" fill="#111" font-weight="normal" stroke="#111" stroke-width="0.35" textLength="18.30" lengthAdjust="spacingAndGlyphs">100</text>
<text x="341.00" y="277.90" font-size="10" text-anchor="end" fill="#111" font-weight="normal" stroke="#111" stroke-width="0.35" textLength="18.30" lengthAdjust="spacingAndGlyphs">150</text>
<rect x="359" y="305.40" width="41.2" height="62.00" fill="#0f4c81" stroke="#111" stroke-width="1.1"/>
<rect x="420" y="320.90" width="41.2" height="46.50" fill="#c4122f" stroke="#111" stroke-width="1.1"/>
<line x1="369.20" y1="304.60" x2="389.40" y2="304.60" stroke="#111" stroke-width="1.2" stroke-linecap="butt"/>
<line x1="430.40" y1="320.20" x2="451.00" y2="320.20" stroke="#111" stroke-width="1.2" stroke-linecap="butt"/>
<line x1="348.50" y1="367.40" x2="471.50" y2="367.40" stroke="#111" stroke-width="1.45" stroke-linecap="butt"/>
<line x1="379.50" y1="367.40" x2="379.50" y2="371.40" stroke="#111" stroke-width="1.45" stroke-linecap="butt"/>
<line x1="440.40" y1="367.40" x2="440.40" y2="371.40" stroke="#111" stroke-width="1.45" stroke-linecap="butt"/>
<text x="379.60" y="382.70" font-size="10" text-anchor="middle" fill="#111" font-weight="normal" stroke="#111" stroke-width="0.62" textLength="35.60" lengthAdjust="spacingAndGlyphs">Normal</text>
<text x="440.00" y="382.70" font-size="10" text-anchor="middle" fill="#111" font-weight="normal" stroke="#111" stroke-width="0.62" textLength="20.60" lengthAdjust="spacingAndGlyphs">SCT</text>
<text x="316.00" y="321.50" font-size="11.6" text-anchor="middle" fill="#111" font-weight="normal" stroke="#111" stroke-width="0.28" textLength="96.20" lengthAdjust="spacingAndGlyphs" transform="rotate(-90 316.00 321.50)">p24 staining (% normal)</text>
<path d="M378.3 299.4 V289.8 H438.3 V314.6" stroke="#111" stroke-width="1.45" fill="none" stroke-linejoin="miter"/>
<text x="387.90" y="285.00" font-size="10" text-anchor="start" fill="#111" font-weight="normal" stroke="#111" stroke-width="0.15" font-style="italic">p</text>
<text x="393.20" y="285.00" font-size="10" text-anchor="start" fill="#111" font-weight="normal" stroke="#111" stroke-width="0.4" textLength="35.30" lengthAdjust="spacingAndGlyphs">=0.005</text>
<text x="8.50" y="447.80" font-size="14.6" text-anchor="start" fill="#111" font-weight="bold" stroke="#111" stroke-width="0.55" textLength="13.00" lengthAdjust="spacingAndGlyphs">E</text>
<line x1="127.00" y1="460.10" x2="127.00" y2="643.40" stroke="#111" stroke-width="1.45" stroke-linecap="butt"/>
<line x1="122.70" y1="642.80" x2="127.00" y2="642.80" stroke="#111" stroke-width="1.45" stroke-linecap="butt"/>
<line x1="122.70" y1="597.27" x2="127.00" y2="597.27" stroke="#111" stroke-width="1.45" stroke-linecap="butt"/>
<line x1="122.70" y1="551.75" x2="127.00" y2="551.75" stroke="#111" stroke-width="1.45" stroke-linecap="butt"/>
<line x1="122.70" y1="506.22" x2="127.00" y2="506.22" stroke="#111" stroke-width="1.45" stroke-linecap="butt"/>
<line x1="122.70" y1="460.70" x2="127.00" y2="460.70" stroke="#111" stroke-width="1.45" stroke-linecap="butt"/>
<line x1="123.60" y1="620.04" x2="127.00" y2="620.04" stroke="#111" stroke-width="1.45" stroke-linecap="butt"/>
<line x1="123.60" y1="574.51" x2="127.00" y2="574.51" stroke="#111" stroke-width="1.45" stroke-linecap="butt"/>
<line x1="123.60" y1="528.99" x2="127.00" y2="528.99" stroke="#111" stroke-width="1.45" stroke-linecap="butt"/>
<line x1="123.60" y1="483.46" x2="127.00" y2="483.46" stroke="#111" stroke-width="1.45" stroke-linecap="butt"/>
<text x="119.50" y="646.30" font-size="10" text-anchor="end" fill="#111" font-weight="normal" stroke="#111" stroke-width="0.35" textLength="6.50" lengthAdjust="spacingAndGlyphs">0</text>
<text x="119.50" y="600.77" font-size="10" text-anchor="end" fill="#111" font-weight="normal" stroke="#111" stroke-width="0.35" textLength="12.40" lengthAdjust="spacingAndGlyphs">50</text>
<text x="119.50" y="555.25" font-size="10" text-anchor="end" fill="#111" font-weight="normal" stroke="#111" stroke-width="0.35" textLength="18.30" lengthAdjust="spacingAndGlyphs">100</text>
<text x="119.50" y="509.72" font-size="10" text-anchor="end" fill="#111" font-weight="normal" stroke="#111" stroke-width="0.35" textLength="18.30" lengthAdjust="spacingAndGlyphs">150</text>
<text x="119.50" y="464.20" font-size="10" text-anchor="end" fill="#111" font-weight="normal" stroke="#111" stroke-width="0.35" textLength="18.30" lengthAdjust="spacingAndGlyphs">200</text>
<line x1="127.00" y1="642.80" x2="421.70" y2="642.80" stroke="#111" stroke-width="1.45" stroke-linecap="butt"/>
<line x1="164.50" y1="642.80" x2="164.50" y2="647.00" stroke="#111" stroke-width="1.45" stroke-linecap="butt"/>
<line x1="237.00" y1="642.80" x2="237.00" y2="647.00" stroke="#111" stroke-width="1.45" stroke-linecap="butt"/>
<line x1="310.80" y1="642.80" x2="310.80" y2="647.00" stroke="#111" stroke-width="1.45" stroke-linecap="butt"/>
<line x1="383.90" y1="642.80" x2="383.90" y2="647.00" stroke="#111" stroke-width="1.45" stroke-linecap="butt"/>
<text x="168.10" y="655.50" font-size="10" text-anchor="end" fill="#111" font-weight="normal" stroke="#111" stroke-width="0.35" textLength="45.94" lengthAdjust="spacingAndGlyphs" transform="rotate(-45 168.10 655.50)">Early LTR</text>
<text x="240.60" y="655.50" font-size="10" text-anchor="end" fill="#111" font-weight="normal" stroke="#111" stroke-width="0.35" textLength="42.03" lengthAdjust="spacingAndGlyphs" transform="rotate(-45 240.60 655.50)">Late LTR</text>
<text x="314.40" y="655.50" font-size="10" text-anchor="end" fill="#111" font-weight="normal" stroke="#111" stroke-width="0.35" textLength="62.06" lengthAdjust="spacingAndGlyphs" transform="rotate(-45 314.40 655.50)">2-LTR circles</text>
<text x="387.50" y="655.50" font-size="10" text-anchor="end" fill="#111" font-weight="normal" stroke="#111" stroke-width="0.35" textLength="72.78" lengthAdjust="spacingAndGlyphs" transform="rotate(-45 387.50 655.50)">Integrated DNA</text>
<text x="92.50" y="551.40" font-size="11.6" text-anchor="middle" fill="#111" font-weight="normal" stroke="#111" stroke-width="0.28" textLength="195.40" lengthAdjust="spacingAndGlyphs" transform="rotate(-90 92.50 551.40)">HIV-1 DNA (relative to β - globin, arbitrary units)</text>
<path d="M150.2 465 V452.7 H179.8 V552" stroke="#111" stroke-width="1.45" fill="none" stroke-linejoin="miter"/>
<path d="M223.3 465 V452.7 H252 V575.3" stroke="#111" stroke-width="1.45" fill="none" stroke-linejoin="miter"/>
<path d="M297.0 481.7 V468.3 H325.0 V537.4" stroke="#111" stroke-width="1.45" fill="none" stroke-linejoin="miter"/>
<path d="M368.2 521.4 V492.7 H397.2 V544.6" stroke="#111" stroke-width="1.45" fill="none" stroke-linejoin="miter"/>
<text x="150.20" y="448.70" font-size="10" text-anchor="start" fill="#111" font-weight="normal" stroke="#111" stroke-width="0.15" font-style="italic">p</text>
<text x="155.50" y="448.70" font-size="10" text-anchor="start" fill="#111" font-weight="normal" stroke="#111" stroke-width="0.4" textLength="20.70" lengthAdjust="spacingAndGlyphs">=0.1</text>
<text x="222.10" y="448.70" font-size="10" text-anchor="start" fill="#111" font-weight="normal" stroke="#111" stroke-width="0.15" font-style="italic">p</text>
<text x="227.40" y="448.70" font-size="10" text-anchor="start" fill="#111" font-weight="normal" stroke="#111" stroke-width="0.4" textLength="28.80" lengthAdjust="spacingAndGlyphs">=0.03</text>
<text x="289.20" y="464.00" font-size="10" text-anchor="start" fill="#111" font-weight="normal" stroke="#111" stroke-width="0.15" font-style="italic">p</text>
<text x="294.50" y="464.00" font-size="10" text-anchor="start" fill="#111" font-weight="normal" stroke="#111" stroke-width="0.4" textLength="28.40" lengthAdjust="spacingAndGlyphs">=0.05</text>
<text x="360.20" y="486.30" font-size="10" text-anchor="start" fill="#111" font-weight="normal" stroke="#111" stroke-width="0.15" font-style="italic">p</text>
<text x="365.50" y="486.30" font-size="10" text-anchor="start" fill="#111" font-weight="normal" stroke="#111" stroke-width="0.4" textLength="35.10" lengthAdjust="spacingAndGlyphs">=0.005</text>
<line x1="138.90" y1="551.50" x2="161.30" y2="551.50" stroke="#111" stroke-width="1.45" stroke-linecap="butt"/>
<circle cx="150.4" cy="475.6" r="3.3" stroke="#111" stroke-width="1.6" fill="none"/>
<circle cx="150.4" cy="519.8" r="3.3" stroke="#111" stroke-width="1.6" fill="none"/>
<circle cx="150.6" cy="561.7" r="3.3" stroke="#111" stroke-width="1.6" fill="none"/>
<circle cx="145.7" cy="601.2" r="3.3" stroke="#111" stroke-width="1.6" fill="none"/>
<circle cx="154.9" cy="598.6" r="3.3" stroke="#111" stroke-width="1.6" fill="none"/>
<line x1="166.50" y1="588.90" x2="188.80" y2="588.90" stroke="#2fae49" stroke-width="1.45" stroke-linecap="butt"/>
<circle cx="177.60" cy="570.90" r="3.4" fill="#2fae49"/>
<circle cx="171.70" cy="578.60" r="3.4" fill="#2fae49"/>
<circle cx="175.00" cy="587.00" r="3.4" fill="#2fae49"/>
<circle cx="183.40" cy="585.00" r="3.4" fill="#2fae49"/>
<circle cx="179.50" cy="589.00" r="3.4" fill="#2fae49"/>
<circle cx="182.00" cy="603.10" r="3.4" fill="#2fae49"/>
<circle cx="172.30" cy="608.70" r="3.4" fill="#2fae49"/>
<line x1="212.00" y1="551.50" x2="235.00" y2="551.50" stroke="#111" stroke-width="1.45" stroke-linecap="butt"/>
<circle cx="223.5" cy="475.6" r="3.3" stroke="#111" stroke-width="1.6" fill="none"/>
<circle cx="223.3" cy="537.1" r="3.3" stroke="#111" stroke-width="1.6" fill="none"/>
<circle cx="223.3" cy="564.3" r="3.3" stroke="#111" stroke-width="1.6" fill="none"/>
<circle cx="218.4" cy="590.9" r="3.3" stroke="#111" stroke-width="1.6" fill="none"/>
<circle cx="228.2" cy="590.9" r="3.3" stroke="#111" stroke-width="1.6" fill="none"/>
<circle cx="251.10" cy="593.80" r="3.4" fill="#2fae49"/>
<circle cx="245.00" cy="612.20" r="3.4" fill="#2fae49"/>
<circle cx="256.70" cy="609.70" r="3.4" fill="#2fae49"/>
<circle cx="248.50" cy="616.70" r="3.4" fill="#2fae49"/>
<circle cx="253.40" cy="616.10" r="3.4" fill="#2fae49"/>
<line x1="239.20" y1="609.70" x2="262.50" y2="609.70" stroke="#2fae49" stroke-width="1.45" stroke-linecap="butt"/>
<line x1="285.00" y1="550.30" x2="308.50" y2="550.30" stroke="#111" stroke-width="1.45" stroke-linecap="butt"/>
<circle cx="296.9" cy="492.3" r="3.3" stroke="#111" stroke-width="1.6" fill="none"/>
<circle cx="293.1" cy="543.8" r="3.3" stroke="#111" stroke-width="1.6" fill="none"/>
<circle cx="297.9" cy="543.8" r="3.3" stroke="#111" stroke-width="1.6" fill="none"/>
<circle cx="301.7" cy="543.8" r="3.3" stroke="#111" stroke-width="1.6" fill="none"/>
<circle cx="292.1" cy="566.2" r="3.3" stroke="#111" stroke-width="1.6" fill="none"/>
<circle cx="301.7" cy="569" r="3.3" stroke="#111" stroke-width="1.6" fill="none"/>
<circle cx="296.9" cy="594" r="3.3" stroke="#111" stroke-width="1.6" fill="none"/>
<circle cx="324.20" cy="547.40" r="3.4" fill="#2fae49"/>
<circle cx="324.20" cy="566.20" r="3.4" fill="#2fae49"/>
<circle cx="320.40" cy="618.00" r="3.4" fill="#2fae49"/>
<circle cx="328.10" cy="620.80" r="3.4" fill="#2fae49"/>
<circle cx="324.20" cy="623.70" r="3.4" fill="#2fae49"/>
<line x1="312.70" y1="595.40" x2="336.30" y2="595.40" stroke="#2fae49" stroke-width="1.45" stroke-linecap="butt"/>
<line x1="358.30" y1="552.10" x2="382.70" y2="552.10" stroke="#111" stroke-width="1.45" stroke-linecap="butt"/>
<circle cx="365" cy="531.5" r="3.3" stroke="#111" stroke-width="1.6" fill="none"/>
<circle cx="375" cy="530" r="3.3" stroke="#111" stroke-width="1.6" fill="none"/>
<circle cx="365" cy="550.6" r="3.3" stroke="#111" stroke-width="1.6" fill="none"/>
<circle cx="368.5" cy="553.5" r="3.3" stroke="#111" stroke-width="1.6" fill="none"/>
<circle cx="376.5" cy="552.5" r="3.3" stroke="#111" stroke-width="1.6" fill="none"/>
<circle cx="372.3" cy="559.6" r="3.3" stroke="#111" stroke-width="1.6" fill="none"/>
<circle cx="375" cy="563.5" r="3.3" stroke="#111" stroke-width="1.6" fill="none"/>
<circle cx="365.4" cy="572.7" r="3.3" stroke="#111" stroke-width="1.6" fill="none"/>
<circle cx="397.30" cy="556.90" r="3.4" fill="#2fae49"/>
<circle cx="392.50" cy="579.00" r="3.4" fill="#2fae49"/>
<circle cx="402.10" cy="586.70" r="3.4" fill="#2fae49"/>
<circle cx="392.90" cy="622.30" r="3.4" fill="#2fae49"/>
<circle cx="402.50" cy="620.40" r="3.4" fill="#2fae49"/>
<line x1="386.50" y1="592.50" x2="410.20" y2="592.50" stroke="#2fae49" stroke-width="1.45" stroke-linecap="butt"/>
<circle cx="443.1" cy="499.8" r="3.85" stroke="#111" stroke-width="1.65" fill="none"/>
<circle cx="444.60" cy="519.90" r="4.0" fill="#2fae49"/>
<text x="454.10" y="502.60" font-size="10" text-anchor="start" fill="#111" font-weight="normal" stroke="#111" stroke-width="0.62" textLength="33.00" lengthAdjust="spacingAndGlyphs">Normal</text>
<text x="454.10" y="523.80" font-size="10" text-anchor="start" fill="#111" font-weight="normal" stroke="#111" stroke-width="0.62" textLength="18.60" lengthAdjust="spacingAndGlyphs">SCT</text>
<rect x="0.75" y="0.75" width="518.5" height="719.5" fill="none" stroke="#111" stroke-width="1.5"/>
</svg></body></html>
